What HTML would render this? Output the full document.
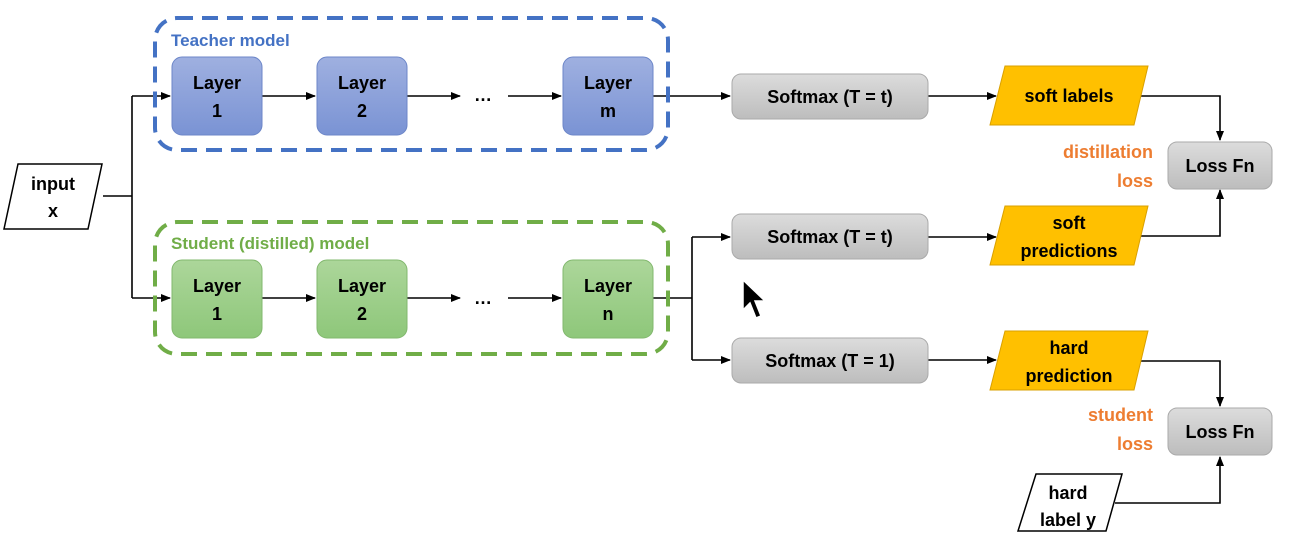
<!DOCTYPE html>
<html><head><style>
body{margin:0;background:#fff;}
svg text{font-family:"Liberation Sans",sans-serif;font-weight:bold;}
</style></head><body>
<svg width="1291" height="551" viewBox="0 0 1291 551" xmlns="http://www.w3.org/2000/svg">
<defs>
<marker id="a" markerWidth="10" markerHeight="10" refX="9" refY="5" orient="auto" markerUnits="userSpaceOnUse"><path d="M0,1 L10,5 L0,9 z" fill="#000"/></marker>
<linearGradient id="gb" x1="0" y1="0" x2="0" y2="1"><stop offset="0" stop-color="#9fb0e0"/><stop offset="1" stop-color="#7a93d4"/></linearGradient>
<linearGradient id="gg" x1="0" y1="0" x2="0" y2="1"><stop offset="0" stop-color="#acd69a"/><stop offset="1" stop-color="#8ec77a"/></linearGradient>
<linearGradient id="gy" x1="0" y1="0" x2="0" y2="1"><stop offset="0" stop-color="#dcdcdc"/><stop offset="1" stop-color="#bdbdbd"/></linearGradient>
</defs>
<g stroke="#000" stroke-width="1.6" fill="none">
<path d="M103,196 H132"/>
<path d="M132,96 V298"/>
<path d="M132,96 H170" marker-end="url(#a)"/>
<path d="M132,298 H170" marker-end="url(#a)"/>
<path d="M262,96 H315" marker-end="url(#a)"/>
<path d="M407,96 H460" marker-end="url(#a)"/>
<path d="M508,96 H561" marker-end="url(#a)"/>
<path d="M262,298 H315" marker-end="url(#a)"/>
<path d="M407,298 H460" marker-end="url(#a)"/>
<path d="M508,298 H561" marker-end="url(#a)"/>
<path d="M653,96 H730" marker-end="url(#a)"/>
<path d="M653,298 H692 M692,237 V360"/>
<path d="M692,237 H730" marker-end="url(#a)"/>
<path d="M692,360 H730" marker-end="url(#a)"/>
<path d="M928,96 H996" marker-end="url(#a)"/>
<path d="M928,237 H996" marker-end="url(#a)"/>
<path d="M928,360 H996" marker-end="url(#a)"/>
<path d="M1140,96 H1220 V140" marker-end="url(#a)"/>
<path d="M1140,236 H1220 V190" marker-end="url(#a)"/>
<path d="M1140,361 H1220 V406" marker-end="url(#a)"/>
<path d="M1115,503 H1220 V457" marker-end="url(#a)"/>
</g>
<rect x="155" y="18" width="513" height="132" rx="22" fill="none" stroke="#4472c4" stroke-width="4" stroke-dasharray="16,9"/>
<rect x="155" y="222" width="513" height="132" rx="22" fill="none" stroke="#70ad47" stroke-width="4" stroke-dasharray="16,9"/>
<text x="171" y="46" font-size="17" fill="#4472c4">Teacher model</text>
<text x="171" y="249" font-size="17" fill="#70ad47">Student (distilled) model</text>
<g font-size="18" text-anchor="middle" fill="#000">
<rect x="172" y="57" width="90" height="78" rx="10" fill="url(#gb)" stroke="#6c86c8"/>
<rect x="317" y="57" width="90" height="78" rx="10" fill="url(#gb)" stroke="#6c86c8"/>
<rect x="563" y="57" width="90" height="78" rx="10" fill="url(#gb)" stroke="#6c86c8"/>
<text x="217" y="89">Layer</text><text x="217" y="117">1</text>
<text x="362" y="89">Layer</text><text x="362" y="117">2</text>
<text x="608" y="89">Layer</text><text x="608" y="117">m</text>
<text x="483" y="101">…</text>
<rect x="172" y="260" width="90" height="78" rx="10" fill="url(#gg)" stroke="#82b86e"/>
<rect x="317" y="260" width="90" height="78" rx="10" fill="url(#gg)" stroke="#82b86e"/>
<rect x="563" y="260" width="90" height="78" rx="10" fill="url(#gg)" stroke="#82b86e"/>
<text x="217" y="292">Layer</text><text x="217" y="320">1</text>
<text x="362" y="292">Layer</text><text x="362" y="320">2</text>
<text x="608" y="292">Layer</text><text x="608" y="320">n</text>
<text x="483" y="304">…</text>
<polygon points="18,164 102,164 88,229 4,229" fill="#fff" stroke="#000" stroke-width="1.5"/>
<text x="53" y="190">input</text><text x="53" y="217">x</text>
<rect x="732" y="74" width="196" height="45" rx="9" fill="url(#gy)" stroke="#aaa"/>
<rect x="732" y="214" width="196" height="45" rx="9" fill="url(#gy)" stroke="#aaa"/>
<rect x="732" y="338" width="196" height="45" rx="9" fill="url(#gy)" stroke="#aaa"/>
<text x="830" y="103">Softmax (T = t)</text>
<text x="830" y="243">Softmax (T = t)</text>
<text x="830" y="367">Softmax (T = 1)</text>
<polygon points="1005,66 1148,66 1134,125 990,125" fill="#ffc000" stroke="#d9a000"/>
<polygon points="1005,206 1148,206 1134,265 990,265" fill="#ffc000" stroke="#d9a000"/>
<polygon points="1005,331 1148,331 1134,390 990,390" fill="#ffc000" stroke="#d9a000"/>
<text x="1069" y="102">soft labels</text>
<text x="1069" y="229">soft</text><text x="1069" y="257">predictions</text>
<text x="1069" y="354">hard</text><text x="1069" y="382">prediction</text>
<rect x="1168" y="142" width="104" height="47" rx="9" fill="url(#gy)" stroke="#aaa"/>
<rect x="1168" y="408" width="104" height="47" rx="9" fill="url(#gy)" stroke="#aaa"/>
<text x="1220" y="172">Loss Fn</text>
<text x="1220" y="438">Loss Fn</text>
<polygon points="1036,474 1122,474 1106,531 1018,531" fill="#fff" stroke="#000" stroke-width="1.5"/>
<text x="1068" y="499">hard</text><text x="1068" y="526">label y</text>
</g>
<g font-size="18" text-anchor="end" fill="#ed7d31">
<text x="1153" y="158">distillation</text><text x="1153" y="187">loss</text>
<text x="1153" y="421">student</text><text x="1153" y="450">loss</text>
</g>
<path d="M743,280 L743,310 L750,303 L756,318 L761,316 L755,301 L765,301 Z" fill="#000" stroke="#fff" stroke-width="1.5"/>
</svg>
</body></html>
